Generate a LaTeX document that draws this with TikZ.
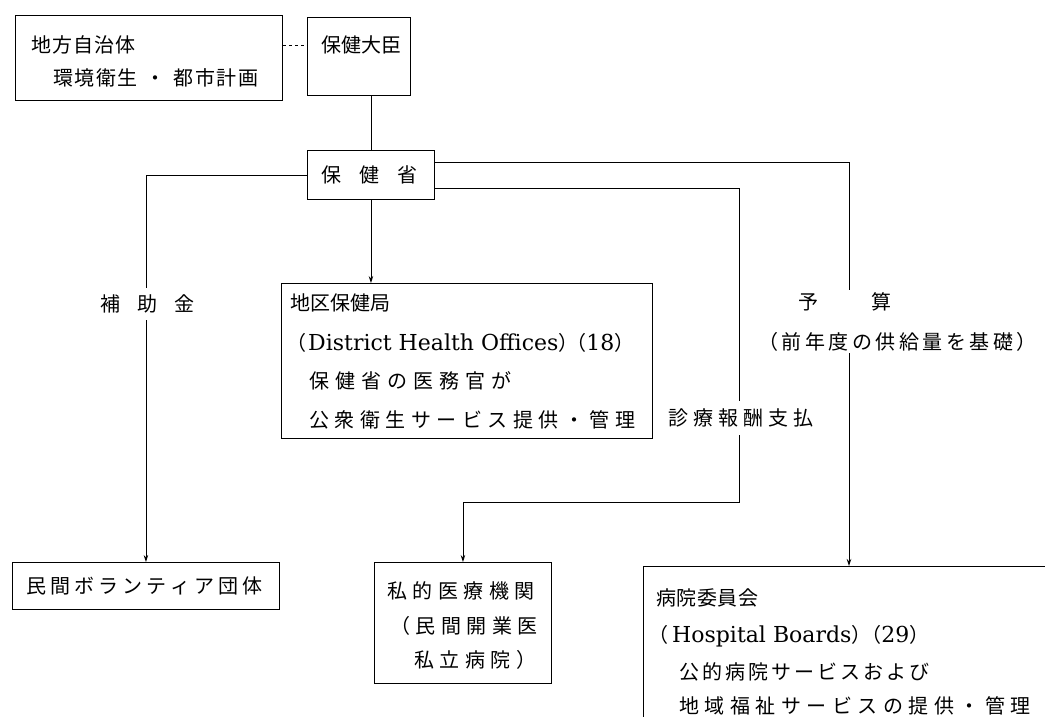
\documentclass[tikz,border=0pt]{standalone}
\usepackage{fontspec}
\newfontfamily\jp{Noto Sans CJK JP}
\newfontfamily\lat{DejaVu Serif}
\usetikzlibrary{arrows.meta,calc}
\def\sprEnd{SPREND}
\def\spreadjp#1#2{\def\sprgap{\hspace{#1}}\sprA#2\sprEnd}
\def\sprA#1{#1\sprB}
\def\sprB#1{\ifx#1\sprEnd\else\sprgap#1\expandafter\sprB\fi}
\begin{document}
\begin{tikzpicture}[x=1pt,y=-1pt,
  box/.style={draw, line width=0.9pt, inner sep=0pt, anchor=north west},
  jt/.style={anchor=west, inner sep=0pt, font=\jp\fontsize{20}{24}\selectfont},
  lbl/.style={fill=white, inner xsep=3pt, inner ysep=7pt, font=\jp\fontsize{20}{24}\selectfont},
  con/.style={line width=0.9pt},
  arr/.style={con, -{Stealth[length=7pt,width=4.5pt]}}]
\useasboundingbox (0,0) rectangle (1045,716);
\clip (0,0) rectangle (1045,716);
\fill[white] (0,0) rectangle (1045,716);
% boxes
\node[box, minimum width=267pt, minimum height=85pt] (lg) at (15,15) {};
\node[box, minimum width=103pt, minimum height=78pt] (mn) at (307,17) {};
\node[box, minimum width=127pt, minimum height=49pt] (moh) at (307,150) {};
\node[box, minimum width=371pt, minimum height=155pt] (dho) at (281,283) {};
\node[box, minimum width=267pt, minimum height=47pt] (vol) at (12,562) {};
\node[box, minimum width=177pt, minimum height=121pt] (pri) at (374,562) {};
\node[box, minimum width=450pt, minimum height=200pt] (hos) at (643,566) {};
% connectors
\draw[con, dash pattern=on 3pt off 3pt] ($(lg.north east)+(0,30)$) -- ($(mn.north west)+(0,28)$);
\draw[con] (moh.north) -- (moh.north |- mn.south);
\draw[arr] (moh.south) -- (moh.south |- dho.north);
\draw[arr] (moh.west) -| (vol.north);
\draw[arr] ($(moh.north east)+(0,12)$) -| ($(hos.north west)+(206,0)$);
\coordinate (k1) at (739,502);
\draw[arr] ($(moh.south east)+(0,-11)$) -| (k1) -| (pri.north);
% connector labels
\node[lbl] (sub) at (147,304) {\spreadjp{17pt}{補助金}};
\node[lbl, inner ysep=8pt] (pay) at (741,418) {\spreadjp{5pt}{診療報酬支払}};
\node[anchor=north west, fill=white, inner xsep=0pt, inner ysep=2pt, align=left,
  font=\jp\fontsize{20}{40}\selectfont] (bud) at (758,290)
  {\hspace{40pt}予\hspace{53pt}算\\\spreadjp{3.5pt}{（前年度の供給量を基礎）}};
% texts
\node[jt] (lg1) at (31,45) {\spreadjp{1pt}{地方自治体}};
\node[jt] (lg2) at (53,78) {\spreadjp{1.5pt}{環境衛生}\hspace{8pt}・\hspace{8pt}\spreadjp{1.5pt}{都市計画}};
\node[jt] (mn1) at (321,45) {保健大臣};
\node[jt, anchor=center] (moh1) at (369,175) {\spreadjp{18pt}{保健省}};
\node[jt] (dho1) at (290,303) {地区保健局};
\node[jt] (dho2) at (286,343) {（\hspace{2pt}{\lat\fontsize{22}{26}\selectfont District Health Offices}）\hspace{-12pt}（{\lat\fontsize{22}{26}\selectfont 18}）};
\node[jt] (dho3) at (309,381) {\spreadjp{6pt}{保健省の医務官が}};
\node[jt] (dho4) at (309,420) {\spreadjp{5.5pt}{公衆衛生サービス提供・管理}};
\node[jt] (vol1) at (26,586) {\spreadjp{4pt}{民間ボランティア団体}};
\node[jt] (pri1) at (387,591) {\spreadjp{5.5pt}{私的医療機関}};
\node[jt] (pri2) at (390,626) {\spreadjp{5.5pt}{（民間開業医}};
\node[jt] (pri3) at (414,660) {\spreadjp{5.5pt}{私立病院）}};
\node[jt] (hos1) at (656,598) {\spreadjp{0.5pt}{病院委員会}};
\node[jt] (hos2) at (648,636) {（\hspace{4pt}{\lat\fontsize{22}{26}\selectfont Hospital Boards}）\hspace{-10pt}（{\lat\fontsize{22}{26}\selectfont 29}）};
\node[jt] (hos3) at (679,672) {\spreadjp{3pt}{公的病院サービスおよび}};
\node[jt] (hos4) at (679,706) {\spreadjp{5.5pt}{地域福祉サービスの提供・管理}};
\end{tikzpicture}
\end{document}
